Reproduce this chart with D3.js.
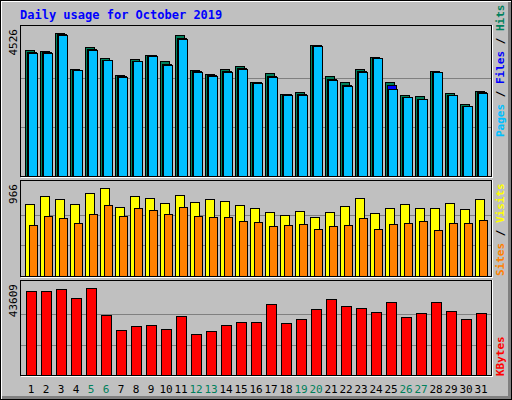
<!DOCTYPE html><html><head><meta charset="utf-8">
<script src="https://cdn.jsdelivr.net/npm/d3@7"></script>
<style>body{margin:0;background:#fff}</style></head><body><svg id="c" width="512" height="400"></svg>
<script>
const days=d3.range(1,32).map(String);
const weekend=["5","6","12","13","19","20","26","27"];
const hits=[3876,3846,4397,3288,3977,3618,3108,3588,3738,3528,4337,3258,3138,3288,3378,2898,3168,2539,2599,4037,3078,2898,3288,3678,2898,2509,2449,3228,2569,2209,2629];
const files=[3830,3810,4360,3270,3920,3580,3070,3550,3720,3440,4260,3220,3100,3230,3310,2880,3080,2530,2539,4020,2998,2800,3230,3640,2808,2440,2380,3210,2500,2170,2590];
const pages=[3798,3798,4337,3258,3888,3558,3048,3528,3708,3408,4217,3198,3078,3198,3288,2868,3048,2509,2479,4007,2958,2778,3198,3618,2688,2419,2359,3198,2479,2149,2569];
const visits=[755,845,805,755,875,926,724,835,815,765,855,775,805,785,745,714,674,644,684,624,674,734,815,664,714,755,714,714,765,704,805];
const sites=[533,634,604,553,654,745,634,714,694,654,724,634,624,624,573,563,523,533,543,493,523,533,614,493,543,553,573,483,553,553,583];
const kbytes=[40400,40400,41300,36700,41800,28900,21600,23400,23900,22000,28500,19700,21100,23900,25200,25200,34000,24800,26600,31700,36300,33100,32100,30300,34900,28000,29800,34900,30800,26600,29800];
const maxHits=4526, maxVisits=966, maxKB=43609;

const svg=d3.select("#c");
svg.append("rect").attr("x",0.5).attr("y",0.5).attr("width",511).attr("height",399).attr("fill","#c0c0c0").attr("stroke","#000");
svg.append("line").attr("x1",1).attr("y1",1.5).attr("x2",511).attr("y2",1.5).attr("stroke","#fff");
svg.append("line").attr("x1",1.5).attr("y1",1).attr("x2",1.5).attr("y2",399).attr("stroke","#fff");
svg.append("line").attr("x1",2).attr("y1",397.5).attr("x2",511).attr("y2",397.5).attr("stroke","#808080").attr("stroke-width",3);
svg.append("line").attr("x1",509.5).attr("y1",2).attr("x2",509.5).attr("y2",399).attr("stroke","#808080").attr("stroke-width",3);
svg.append("text").attr("x",20).attr("y",19).text("Daily usage for October 2019")
 .attr("fill","#0000ff").attr("font-family","DejaVu Sans Mono").attr("font-weight","bold").attr("font-size",12);

const x=d3.scaleBand().domain(days).range([25,490]).paddingInner(0).paddingOuter(0);
const mono="DejaVu Sans Mono";
function panel(y0,y1,max,label){
  svg.append("rect").attr("x",20.5).attr("y",y0+0.5).attr("width",471).attr("height",y1-y0).attr("fill","#c0c0c0").attr("stroke","#000");
  svg.append("line").attr("x1",21).attr("x2",492).attr("y1",y1+1.5).attr("y2",y1+1.5).attr("stroke","#fff");
  svg.append("line").attr("x1",492.5).attr("x2",492.5).attr("y1",y0).attr("y2",y1+2).attr("stroke","#fff");
  const y=d3.scaleLinear().domain([0,max]).range([y1,y0+4]);
  const h=y1-(y0+4);
  [1,2].forEach(k=>svg.append("line").attr("x1",21).attr("x2",491).attr("y1",Math.round(y1-h*k/3)+0.5).attr("y2",Math.round(y1-h*k/3)+0.5).attr("stroke","#808080"));
  svg.append("text").attr("transform",`translate(17,${y0+4}) rotate(-90)`).attr("text-anchor","end").text(label)
   .attr("font-family",mono).attr("font-size",11).attr("fill","#000");
  return y;
}
function bars(y,data,off,w,col){
  svg.append("g").selectAll("rect").data(data).join("rect")
   .attr("x",(d,i)=>x(days[i])+off+0.5).attr("y",d=>Math.round(y(d))+0.5).attr("width",w).attr("height",d=>y(0)-Math.round(y(d)))
   .attr("fill",col).attr("stroke","#000");
}
const y1=panel(25,176,maxHits,"4526");
bars(y1,hits,0,9,"#00805c");
bars(y1,files,2,9,"#0000ff");
bars(y1,pages,3,9,"#00c0ff");
const y2=panel(180,276,maxVisits,"966");
bars(y2,visits,0,9,"#ffff00");
bars(y2,sites,4,8,"#ff8000");
const y3=panel(280,375,maxKB,"43609");
bars(y3,kbytes,1,10,"#ff0000");

function rlab(yb,parts){
  const t=svg.append("text").attr("transform",`translate(504,${yb}) rotate(-90)`).attr("font-family",mono).attr("font-size",11).attr("font-weight","bold");
  parts.forEach(p=>t.append("tspan").text(p[0]).attr("fill",p[1]));
}
rlab(137,[["Pages","#00c0ff"],[" / ","#000"],["Files","#0000ff"],[" / ","#000"],["Hits","#00805c"]]);
rlab(276,[["Sites","#ff8000"],[" / ","#000"],["Visits","#ffff00"]]);
rlab(376,[["KBytes","#ff0000"]]);

svg.append("g").selectAll("text").data(days).join("text")
 .attr("x",d=>x(d)+6).attr("y",393).attr("text-anchor","middle").text(d=>d)
 .attr("font-family",mono).attr("font-size",11).attr("fill",d=>weekend.includes(d)?"#00805c":"#000");
</script></body></html>
